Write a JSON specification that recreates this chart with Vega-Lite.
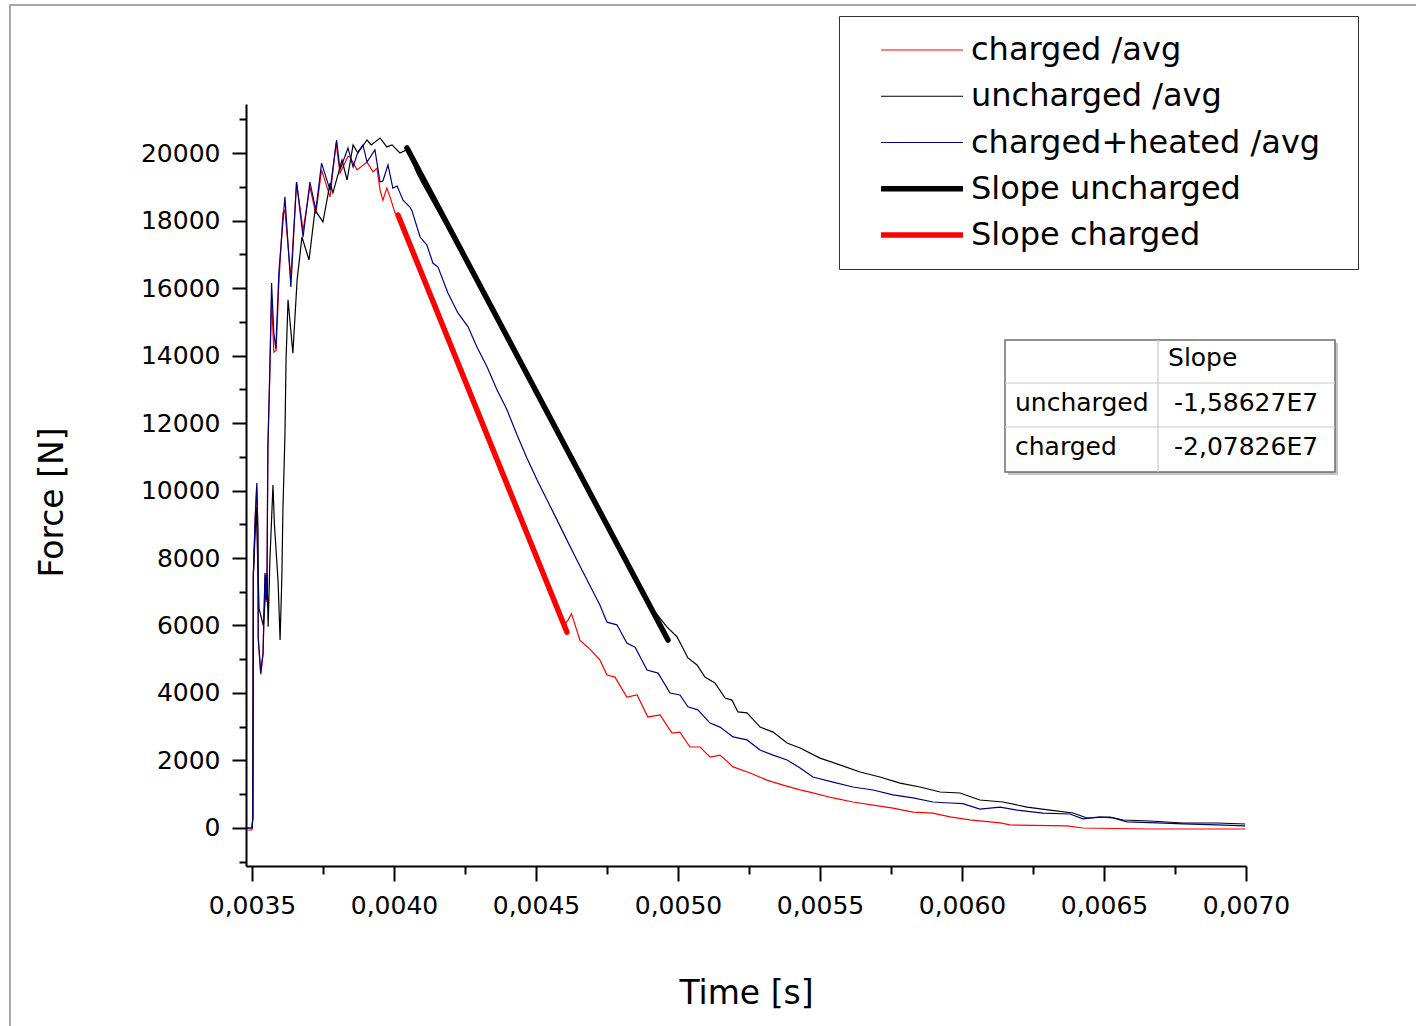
{
  "$schema": "https://vega.github.io/schema/vega-lite/v6.json",
  "autosize": {"type": "none"},
  "padding": {"left": 246, "top": 104, "right": 170, "bottom": 160},
  "width": 1000,
  "height": 762,
  "background": "white",
  "config": {
    "view": {"stroke": null},
    "font": "DejaVu Sans",
    "axis": {
      "grid": false,
      "domainColor": "black",
      "domainWidth": 2,
      "tickColor": "black",
      "tickWidth": 2,
      "labelColor": "black",
      "labelFont": "DejaVu Sans",
      "labelFontSize": 25,
      "titleFont": "DejaVu Sans",
      "titleFontSize": 33,
      "titleFontWeight": "normal",
      "titleColor": "black",
      "labelOverlap": false,
      "labelFlush": false,
      "labelBound": false
    }
  },
  "resolve": {"axis": {"y": "independent"}},
  "datasets": {
    "curves": [
      {"series": "charged /avg", "t": 0.003482, "F": -60},
      {"series": "charged /avg", "t": 0.0035, "F": -60},
      {"series": "charged /avg", "t": 0.003503, "F": 300},
      {"series": "charged /avg", "t": 0.003504, "F": 3800},
      {"series": "charged /avg", "t": 0.003505, "F": 7500},
      {"series": "charged /avg", "t": 0.003511, "F": 9100},
      {"series": "charged /avg", "t": 0.003517, "F": 10100},
      {"series": "charged /avg", "t": 0.003521, "F": 8700},
      {"series": "charged /avg", "t": 0.003522, "F": 5600},
      {"series": "charged /avg", "t": 0.003531, "F": 4550},
      {"series": "charged /avg", "t": 0.003539, "F": 5150},
      {"series": "charged /avg", "t": 0.003546, "F": 7500},
      {"series": "charged /avg", "t": 0.003551, "F": 6700},
      {"series": "charged /avg", "t": 0.003553, "F": 7400},
      {"series": "charged /avg", "t": 0.003556, "F": 11200},
      {"series": "charged /avg", "t": 0.003563, "F": 13500},
      {"series": "charged /avg", "t": 0.003569, "F": 15700},
      {"series": "charged /avg", "t": 0.003577, "F": 14100},
      {"series": "charged /avg", "t": 0.003585, "F": 14150},
      {"series": "charged /avg", "t": 0.003595, "F": 16200},
      {"series": "charged /avg", "t": 0.003609, "F": 18220},
      {"series": "charged /avg", "t": 0.003616, "F": 18300},
      {"series": "charged /avg", "t": 0.003637, "F": 16300},
      {"series": "charged /avg", "t": 0.003657, "F": 19140},
      {"series": "charged /avg", "t": 0.00368, "F": 17700},
      {"series": "charged /avg", "t": 0.003704, "F": 19000},
      {"series": "charged /avg", "t": 0.003725, "F": 18200},
      {"series": "charged /avg", "t": 0.003745, "F": 19500},
      {"series": "charged /avg", "t": 0.003775, "F": 18700},
      {"series": "charged /avg", "t": 0.003796, "F": 20300},
      {"series": "charged /avg", "t": 0.00381, "F": 19400},
      {"series": "charged /avg", "t": 0.003838, "F": 19900},
      {"series": "charged /avg", "t": 0.003845, "F": 19880},
      {"series": "charged /avg", "t": 0.00387, "F": 19500},
      {"series": "charged /avg", "t": 0.003905, "F": 19730},
      {"series": "charged /avg", "t": 0.003926, "F": 19440},
      {"series": "charged /avg", "t": 0.00394, "F": 19550},
      {"series": "charged /avg", "t": 0.003951, "F": 18900},
      {"series": "charged /avg", "t": 0.003961, "F": 18600},
      {"series": "charged /avg", "t": 0.003975, "F": 18960},
      {"series": "charged /avg", "t": 0.003986, "F": 18700},
      {"series": "charged /avg", "t": 0.004004, "F": 18220},
      {"series": "charged /avg", "t": 0.004014, "F": 18160},
      {"series": "charged /avg", "t": 0.0042, "F": 14300},
      {"series": "charged /avg", "t": 0.0044, "F": 10200},
      {"series": "charged /avg", "t": 0.0046, "F": 6020},
      {"series": "charged /avg", "t": 0.004613, "F": 6160},
      {"series": "charged /avg", "t": 0.004625, "F": 6350},
      {"series": "charged /avg", "t": 0.004655, "F": 5560},
      {"series": "charged /avg", "t": 0.00469, "F": 5300},
      {"series": "charged /avg", "t": 0.004725, "F": 4980},
      {"series": "charged /avg", "t": 0.00475, "F": 4530},
      {"series": "charged /avg", "t": 0.004778, "F": 4470},
      {"series": "charged /avg", "t": 0.00482, "F": 3880},
      {"series": "charged /avg", "t": 0.004856, "F": 3940},
      {"series": "charged /avg", "t": 0.004894, "F": 3290},
      {"series": "charged /avg", "t": 0.004937, "F": 3350},
      {"series": "charged /avg", "t": 0.004979, "F": 2810},
      {"series": "charged /avg", "t": 0.005007, "F": 2840},
      {"series": "charged /avg", "t": 0.005042, "F": 2400},
      {"series": "charged /avg", "t": 0.005078, "F": 2400},
      {"series": "charged /avg", "t": 0.005113, "F": 2100},
      {"series": "charged /avg", "t": 0.005148, "F": 2160},
      {"series": "charged /avg", "t": 0.005194, "F": 1810},
      {"series": "charged /avg", "t": 0.005254, "F": 1630},
      {"series": "charged /avg", "t": 0.005313, "F": 1420},
      {"series": "charged /avg", "t": 0.00537, "F": 1270},
      {"series": "charged /avg", "t": 0.00543, "F": 1130},
      {"series": "charged /avg", "t": 0.005475, "F": 1040},
      {"series": "charged /avg", "t": 0.005546, "F": 890},
      {"series": "charged /avg", "t": 0.005616, "F": 770},
      {"series": "charged /avg", "t": 0.005687, "F": 680},
      {"series": "charged /avg", "t": 0.005757, "F": 590},
      {"series": "charged /avg", "t": 0.005828, "F": 470},
      {"series": "charged /avg", "t": 0.005898, "F": 440},
      {"series": "charged /avg", "t": 0.005958, "F": 330},
      {"series": "charged /avg", "t": 0.006028, "F": 240},
      {"series": "charged /avg", "t": 0.006134, "F": 150},
      {"series": "charged /avg", "t": 0.006169, "F": 90},
      {"series": "charged /avg", "t": 0.00637, "F": 60},
      {"series": "charged /avg", "t": 0.006426, "F": 0},
      {"series": "charged /avg", "t": 0.006662, "F": -30},
      {"series": "charged /avg", "t": 0.006997, "F": -30},

      {"series": "uncharged /avg", "t": 0.003482, "F": 0},
      {"series": "uncharged /avg", "t": 0.0035, "F": 0},
      {"series": "uncharged /avg", "t": 0.003503, "F": 300},
      {"series": "uncharged /avg", "t": 0.003505, "F": 7500},
      {"series": "uncharged /avg", "t": 0.003515, "F": 9500},
      {"series": "uncharged /avg", "t": 0.003525, "F": 6500},
      {"series": "uncharged /avg", "t": 0.00354, "F": 6000},
      {"series": "uncharged /avg", "t": 0.003553, "F": 7550},
      {"series": "uncharged /avg", "t": 0.003557, "F": 5960},
      {"series": "uncharged /avg", "t": 0.003563, "F": 7900},
      {"series": "uncharged /avg", "t": 0.003574, "F": 10160},
      {"series": "uncharged /avg", "t": 0.003579, "F": 9000},
      {"series": "uncharged /avg", "t": 0.003592, "F": 7300},
      {"series": "uncharged /avg", "t": 0.003599, "F": 5570},
      {"series": "uncharged /avg", "t": 0.003605, "F": 7350},
      {"series": "uncharged /avg", "t": 0.003609, "F": 9420},
      {"series": "uncharged /avg", "t": 0.003616, "F": 11590},
      {"series": "uncharged /avg", "t": 0.00362, "F": 13870},
      {"series": "uncharged /avg", "t": 0.003627, "F": 15650},
      {"series": "uncharged /avg", "t": 0.003644, "F": 14070},
      {"series": "uncharged /avg", "t": 0.003659, "F": 16240},
      {"series": "uncharged /avg", "t": 0.003676, "F": 17510},
      {"series": "uncharged /avg", "t": 0.003701, "F": 16830},
      {"series": "uncharged /avg", "t": 0.003722, "F": 18310},
      {"series": "uncharged /avg", "t": 0.00375, "F": 17960},
      {"series": "uncharged /avg", "t": 0.003775, "F": 19110},
      {"series": "uncharged /avg", "t": 0.003785, "F": 18820},
      {"series": "uncharged /avg", "t": 0.003817, "F": 19790},
      {"series": "uncharged /avg", "t": 0.003835, "F": 19200},
      {"series": "uncharged /avg", "t": 0.003856, "F": 20240},
      {"series": "uncharged /avg", "t": 0.003873, "F": 20000},
      {"series": "uncharged /avg", "t": 0.003905, "F": 20385},
      {"series": "uncharged /avg", "t": 0.00392, "F": 20240},
      {"series": "uncharged /avg", "t": 0.003951, "F": 20445},
      {"series": "uncharged /avg", "t": 0.003975, "F": 20180},
      {"series": "uncharged /avg", "t": 0.003993, "F": 20240},
      {"series": "uncharged /avg", "t": 0.004021, "F": 20000},
      {"series": "uncharged /avg", "t": 0.004046, "F": 20100},
      {"series": "uncharged /avg", "t": 0.004081, "F": 19410},
      {"series": "uncharged /avg", "t": 0.004099, "F": 19110},
      {"series": "uncharged /avg", "t": 0.0043, "F": 16100},
      {"series": "uncharged /avg", "t": 0.0046, "F": 11350},
      {"series": "uncharged /avg", "t": 0.0049, "F": 6600},
      {"series": "uncharged /avg", "t": 0.004961, "F": 5960},
      {"series": "uncharged /avg", "t": 0.004997, "F": 5660},
      {"series": "uncharged /avg", "t": 0.005035, "F": 5040},
      {"series": "uncharged /avg", "t": 0.005067, "F": 4830},
      {"series": "uncharged /avg", "t": 0.005095, "F": 4470},
      {"series": "uncharged /avg", "t": 0.00513, "F": 4300},
      {"series": "uncharged /avg", "t": 0.005166, "F": 3850},
      {"series": "uncharged /avg", "t": 0.00519, "F": 3790},
      {"series": "uncharged /avg", "t": 0.005211, "F": 3440},
      {"series": "uncharged /avg", "t": 0.005243, "F": 3410},
      {"series": "uncharged /avg", "t": 0.005289, "F": 2990},
      {"series": "uncharged /avg", "t": 0.005335, "F": 2840},
      {"series": "uncharged /avg", "t": 0.005384, "F": 2520},
      {"series": "uncharged /avg", "t": 0.00543, "F": 2370},
      {"series": "uncharged /avg", "t": 0.0055, "F": 2070},
      {"series": "uncharged /avg", "t": 0.00557, "F": 1870},
      {"series": "uncharged /avg", "t": 0.005641, "F": 1660},
      {"series": "uncharged /avg", "t": 0.005711, "F": 1510},
      {"series": "uncharged /avg", "t": 0.005782, "F": 1330},
      {"series": "uncharged /avg", "t": 0.005852, "F": 1215},
      {"series": "uncharged /avg", "t": 0.005923, "F": 1067},
      {"series": "uncharged /avg", "t": 0.005993, "F": 1037},
      {"series": "uncharged /avg", "t": 0.006063, "F": 830},
      {"series": "uncharged /avg", "t": 0.006144, "F": 770},
      {"series": "uncharged /avg", "t": 0.006229, "F": 620},
      {"series": "uncharged /avg", "t": 0.00631, "F": 530},
      {"series": "uncharged /avg", "t": 0.006391, "F": 444},
      {"series": "uncharged /avg", "t": 0.00644, "F": 296},
      {"series": "uncharged /avg", "t": 0.006521, "F": 326},
      {"series": "uncharged /avg", "t": 0.006567, "F": 237},
      {"series": "uncharged /avg", "t": 0.006662, "F": 207},
      {"series": "uncharged /avg", "t": 0.006778, "F": 148},
      {"series": "uncharged /avg", "t": 0.006898, "F": 148},
      {"series": "uncharged /avg", "t": 0.006997, "F": 119},

      {"series": "charged+heated /avg", "t": 0.003482, "F": 0},
      {"series": "charged+heated /avg", "t": 0.0035, "F": 0},
      {"series": "charged+heated /avg", "t": 0.003503, "F": 300},
      {"series": "charged+heated /avg", "t": 0.003504, "F": 3800},
      {"series": "charged+heated /avg", "t": 0.003505, "F": 7550},
      {"series": "charged+heated /avg", "t": 0.003511, "F": 9130},
      {"series": "charged+heated /avg", "t": 0.003517, "F": 10220},
      {"series": "charged+heated /avg", "t": 0.003521, "F": 8830},
      {"series": "charged+heated /avg", "t": 0.003522, "F": 5660},
      {"series": "charged+heated /avg", "t": 0.003531, "F": 4590},
      {"series": "charged+heated /avg", "t": 0.003539, "F": 5190},
      {"series": "charged+heated /avg", "t": 0.003546, "F": 7560},
      {"series": "charged+heated /avg", "t": 0.003551, "F": 6760},
      {"series": "charged+heated /avg", "t": 0.003553, "F": 7350},
      {"series": "charged+heated /avg", "t": 0.003556, "F": 11290},
      {"series": "charged+heated /avg", "t": 0.003563, "F": 13600},
      {"series": "charged+heated /avg", "t": 0.003569, "F": 16150},
      {"series": "charged+heated /avg", "t": 0.003577, "F": 14670},
      {"series": "charged+heated /avg", "t": 0.003584, "F": 14200},
      {"series": "charged+heated /avg", "t": 0.003595, "F": 16500},
      {"series": "charged+heated /avg", "t": 0.003616, "F": 18700},
      {"series": "charged+heated /avg", "t": 0.003637, "F": 16030},
      {"series": "charged+heated /avg", "t": 0.003657, "F": 19140},
      {"series": "charged+heated /avg", "t": 0.00368, "F": 17510},
      {"series": "charged+heated /avg", "t": 0.003704, "F": 19140},
      {"series": "charged+heated /avg", "t": 0.003725, "F": 18310},
      {"series": "charged+heated /avg", "t": 0.003745, "F": 19700},
      {"series": "charged+heated /avg", "t": 0.003775, "F": 18900},
      {"series": "charged+heated /avg", "t": 0.003798, "F": 20385},
      {"series": "charged+heated /avg", "t": 0.00381, "F": 19500},
      {"series": "charged+heated /avg", "t": 0.003838, "F": 20150},
      {"series": "charged+heated /avg", "t": 0.003856, "F": 19590},
      {"series": "charged+heated /avg", "t": 0.003873, "F": 20030},
      {"series": "charged+heated /avg", "t": 0.003891, "F": 20240},
      {"series": "charged+heated /avg", "t": 0.003905, "F": 19730},
      {"series": "charged+heated /avg", "t": 0.003933, "F": 20090},
      {"series": "charged+heated /avg", "t": 0.003951, "F": 19140},
      {"series": "charged+heated /avg", "t": 0.003961, "F": 19170},
      {"series": "charged+heated /avg", "t": 0.003979, "F": 19650},
      {"series": "charged+heated /avg", "t": 0.003996, "F": 18960},
      {"series": "charged+heated /avg", "t": 0.004011, "F": 19020},
      {"series": "charged+heated /avg", "t": 0.004032, "F": 18600},
      {"series": "charged+heated /avg", "t": 0.004056, "F": 18400},
      {"series": "charged+heated /avg", "t": 0.004063, "F": 18300},
      {"series": "charged+heated /avg", "t": 0.004092, "F": 17510},
      {"series": "charged+heated /avg", "t": 0.004116, "F": 17270},
      {"series": "charged+heated /avg", "t": 0.004137, "F": 16740},
      {"series": "charged+heated /avg", "t": 0.004155, "F": 16620},
      {"series": "charged+heated /avg", "t": 0.00419, "F": 15850},
      {"series": "charged+heated /avg", "t": 0.004225, "F": 15260},
      {"series": "charged+heated /avg", "t": 0.004261, "F": 14850},
      {"series": "charged+heated /avg", "t": 0.004292, "F": 14250},
      {"series": "charged+heated /avg", "t": 0.004328, "F": 13660},
      {"series": "charged+heated /avg", "t": 0.004363, "F": 12980},
      {"series": "charged+heated /avg", "t": 0.004398, "F": 12390},
      {"series": "charged+heated /avg", "t": 0.004433, "F": 11650},
      {"series": "charged+heated /avg", "t": 0.004468, "F": 10960},
      {"series": "charged+heated /avg", "t": 0.004504, "F": 10310},
      {"series": "charged+heated /avg", "t": 0.004539, "F": 9720},
      {"series": "charged+heated /avg", "t": 0.004574, "F": 9130},
      {"series": "charged+heated /avg", "t": 0.004609, "F": 8530},
      {"series": "charged+heated /avg", "t": 0.004644, "F": 7940},
      {"series": "charged+heated /avg", "t": 0.00468, "F": 7350},
      {"series": "charged+heated /avg", "t": 0.004725, "F": 6610},
      {"series": "charged+heated /avg", "t": 0.00475, "F": 6100},
      {"series": "charged+heated /avg", "t": 0.004785, "F": 6020},
      {"series": "charged+heated /avg", "t": 0.00482, "F": 5480},
      {"series": "charged+heated /avg", "t": 0.004849, "F": 5360},
      {"series": "charged+heated /avg", "t": 0.004891, "F": 4680},
      {"series": "charged+heated /avg", "t": 0.00493, "F": 4590},
      {"series": "charged+heated /avg", "t": 0.004972, "F": 4000},
      {"series": "charged+heated /avg", "t": 0.005007, "F": 3940},
      {"series": "charged+heated /avg", "t": 0.005035, "F": 3590},
      {"series": "charged+heated /avg", "t": 0.00507, "F": 3500},
      {"series": "charged+heated /avg", "t": 0.005113, "F": 3110},
      {"series": "charged+heated /avg", "t": 0.005148, "F": 2990},
      {"series": "charged+heated /avg", "t": 0.005194, "F": 2700},
      {"series": "charged+heated /avg", "t": 0.005243, "F": 2610},
      {"series": "charged+heated /avg", "t": 0.005289, "F": 2310},
      {"series": "charged+heated /avg", "t": 0.005335, "F": 2160},
      {"series": "charged+heated /avg", "t": 0.005384, "F": 2015},
      {"series": "charged+heated /avg", "t": 0.00543, "F": 1780},
      {"series": "charged+heated /avg", "t": 0.005475, "F": 1510},
      {"series": "charged+heated /avg", "t": 0.005546, "F": 1360},
      {"series": "charged+heated /avg", "t": 0.005616, "F": 1215},
      {"series": "charged+heated /avg", "t": 0.005687, "F": 1126},
      {"series": "charged+heated /avg", "t": 0.005757, "F": 980},
      {"series": "charged+heated /avg", "t": 0.005828, "F": 890},
      {"series": "charged+heated /avg", "t": 0.005898, "F": 770},
      {"series": "charged+heated /avg", "t": 0.005958, "F": 740},
      {"series": "charged+heated /avg", "t": 0.006003, "F": 720},
      {"series": "charged+heated /avg", "t": 0.006063, "F": 560},
      {"series": "charged+heated /avg", "t": 0.006134, "F": 620},
      {"series": "charged+heated /avg", "t": 0.006194, "F": 530},
      {"series": "charged+heated /avg", "t": 0.006285, "F": 440},
      {"series": "charged+heated /avg", "t": 0.00638, "F": 415},
      {"series": "charged+heated /avg", "t": 0.006426, "F": 270},
      {"series": "charged+heated /avg", "t": 0.006486, "F": 330},
      {"series": "charged+heated /avg", "t": 0.006532, "F": 300},
      {"series": "charged+heated /avg", "t": 0.006581, "F": 180},
      {"series": "charged+heated /avg", "t": 0.006687, "F": 150},
      {"series": "charged+heated /avg", "t": 0.006778, "F": 120},
      {"series": "charged+heated /avg", "t": 0.006898, "F": 90},
      {"series": "charged+heated /avg", "t": 0.006997, "F": 60},

      {"series": "Slope uncharged", "t": 0.0040458, "F": 20150},
      {"series": "Slope uncharged", "t": 0.0049648, "F": 5570},
      {"series": "Slope charged", "t": 0.0040141, "F": 18163},
      {"series": "Slope charged", "t": 0.0046092, "F": 5800}
    ],
    "frame": [
      {"t": 0.0026479, "t2": 0.0076479, "F": 24385, "F2": -6280}
    ],
    "tableLines": [
      {"t": 0.0066901, "t2": 0.0066901, "F": 10548, "F2": 14459},
      {"t": 0.0061514, "t2": 0.0073134, "F": 13185, "F2": 13185},
      {"t": 0.0061514, "t2": 0.0073134, "F": 11882, "F2": 11882}
    ],
    "tableBox": [
      {"t": 0.0061514, "t2": 0.0073134, "F": 10548, "F2": 14459}
    ],
    "tableText": [
      {"text": "Slope", "t": 0.0067254, "F": 13926},
      {"text": "uncharged", "t": 0.0061866, "F": 12593},
      {"text": "charged", "t": 0.0061866, "F": 11289},
      {"text": "-1,58627E7", "t": 0.0067465, "F": 12593},
      {"text": "-2,07826E7", "t": 0.0067465, "F": 11289}
    ]
  },
  "layer": [
    {
      "data": {"name": "curves"},
      "transform": [{"filter": {"field": "series", "oneOf": ["charged /avg", "uncharged /avg", "charged+heated /avg"]}}],
      "mark": {"type": "line", "strokeWidth": 1.2, "clip": true},
      "encoding": {
        "x": {
          "field": "t", "type": "quantitative", "title": "Time [s]",
          "scale": {"domain": [0.003479, 0.007], "nice": false, "zero": false},
          "axis": {
            "values": [0.0035, 0.00375, 0.004, 0.00425, 0.0045, 0.00475, 0.005, 0.00525, 0.0055, 0.00575, 0.006, 0.00625, 0.0065, 0.00675, 0.007],
            "labelExpr": "abs(datum.value*2000 - round(datum.value*2000)) < 0.01 ? replace(format(datum.value, '.4f'), '.', ',') : ''",
            "tickSize": {"condition": {"test": "abs(datum.value*2000 - round(datum.value*2000)) < 0.01", "value": 15}, "value": 8},
            "labelPadding": 12,
            "titleBaseline": "alphabetic",
            "titleY": 137
          }
        },
        "y": {
          "field": "F", "type": "quantitative", "title": "Force [N]",
          "scale": {"domain": [-1126, 21452], "nice": false, "zero": false},
          "axis": {
            "orient": "left",
            "values": [0, 2000, 4000, 6000, 8000, 10000, 12000, 14000, 16000, 18000, 20000],
            "format": "d",
            "tickSize": 14,
            "labelPadding": 12,
            "titleBaseline": "alphabetic",
            "titleX": -184,
            "titleY": 398
          }
        },
        "color": {
          "field": "series", "type": "nominal",
          "scale": {
            "domain": ["charged /avg", "uncharged /avg", "charged+heated /avg", "Slope uncharged", "Slope charged"],
            "range": ["#ff0000", "#000000", "#000080", "#000000", "#ff0000"]
          },
          "legend": {
            "orient": "none",
            "legendX": 593,
            "legendY": -88,
            "title": ".",
            "titleOrient": "right",
            "titleOpacity": 0,
            "titleFontSize": 10,
            "titlePadding": 16,
            "strokeColor": "#333333",
            "fillColor": "white",
            "padding": 18,
            "symbolType": "M-4,0H4",
            "symbolSize": 420,
            "symbolOffset": 49,
            "labelOffset": 33,
            "labelFont": "DejaVu Sans",
            "labelFontSize": 32,
            "labelColor": "black",
            "labelLimit": 600,
            "rowPadding": 14.25,
            "encode": {
              "symbols": {
                "update": {
                  "strokeWidth": {"signal": "indexof(['Slope uncharged', 'Slope charged'], datum.value) >= 0 ? 5.5 : 1.2"}
                }
              }
            }
          }
        }
      }
    },
    {
      "data": {"name": "curves"},
      "transform": [{"filter": {"field": "series", "oneOf": ["Slope uncharged", "Slope charged"]}}],
      "mark": {"type": "line", "strokeWidth": 5.5, "strokeCap": "round", "clip": true},
      "encoding": {
        "x": {"field": "t", "type": "quantitative", "title": "Time [s]"},
        "y": {"field": "F", "type": "quantitative", "axis": null},
        "color": {"field": "series", "type": "nominal"}
      }
    },
    {
      "data": {"name": "frame"},
      "mark": {"type": "rect", "fill": null, "fillOpacity": 0, "stroke": "#8a8a8a", "strokeWidth": 1.5},
      "encoding": {
        "x": {"field": "t", "type": "quantitative", "title": "Time [s]"},
        "x2": {"field": "t2"},
        "y": {
          "field": "F", "type": "quantitative", "title": null,
          "axis": {
            "orient": "left",
            "values": [-1000, 1000, 3000, 5000, 7000, 9000, 11000, 13000, 15000, 17000, 19000, 21000],
            "labels": false,
            "domain": false,
            "tickSize": 7,
            "title": null
          }
        },
        "y2": {"field": "F2"}
      }
    },
    {
      "data": {"name": "tableBox"},
      "mark": {"type": "rect", "fill": "#c4c4c4", "xOffset": 3, "yOffset": 3, "x2Offset": 3, "y2Offset": 3},
      "encoding": {
        "x": {"field": "t", "type": "quantitative", "title": "Time [s]"},
        "x2": {"field": "t2"},
        "y": {"field": "F", "type": "quantitative", "axis": null},
        "y2": {"field": "F2"}
      }
    },
    {
      "data": {"name": "tableBox"},
      "mark": {"type": "rect", "fill": "white", "stroke": "#6e6e6e", "strokeWidth": 1.5},
      "encoding": {
        "x": {"field": "t", "type": "quantitative", "title": "Time [s]"},
        "x2": {"field": "t2"},
        "y": {"field": "F", "type": "quantitative", "axis": null},
        "y2": {"field": "F2"}
      }
    },
    {
      "data": {"name": "tableLines"},
      "mark": {"type": "rule", "stroke": "#cccccc", "strokeWidth": 1.2},
      "encoding": {
        "x": {"field": "t", "type": "quantitative", "title": "Time [s]"},
        "x2": {"field": "t2"},
        "y": {"field": "F", "type": "quantitative", "axis": null},
        "y2": {"field": "F2"}
      }
    },
    {
      "data": {"name": "tableText"},
      "mark": {"type": "text", "align": "left", "baseline": "middle", "font": "DejaVu Sans", "fontSize": 25, "color": "black"},
      "encoding": {
        "x": {"field": "t", "type": "quantitative", "title": "Time [s]"},
        "y": {"field": "F", "type": "quantitative", "axis": null},
        "text": {"field": "text"}
      }
    }
  ]
}
